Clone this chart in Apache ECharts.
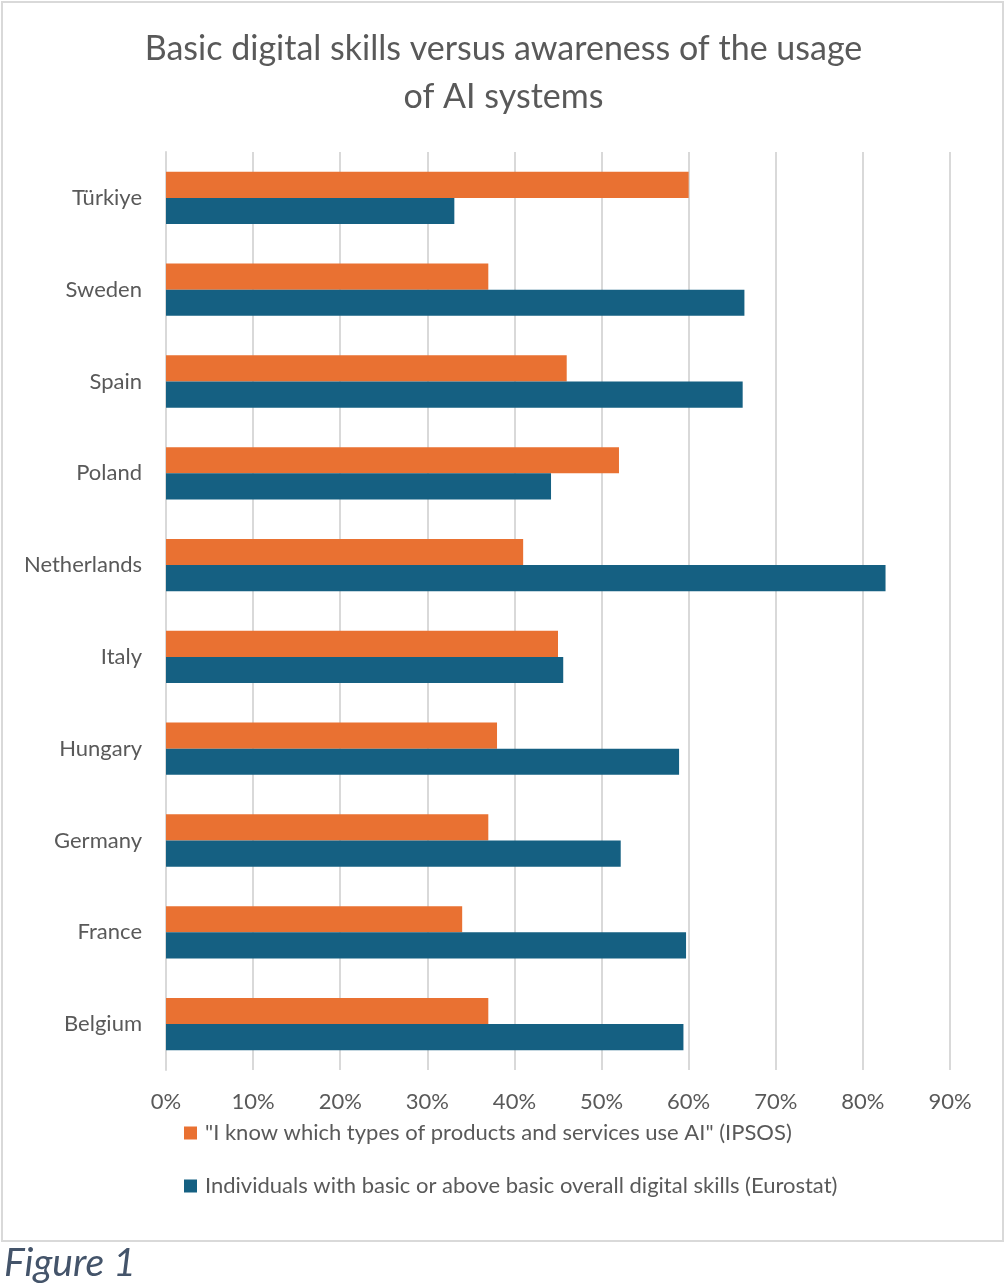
<!DOCTYPE html>
<html>
<head>
<meta charset="utf-8">
<script src="https://cdn.jsdelivr.net/npm/echarts@6/dist/echarts.min.js"></script>
<style>
html,body{margin:0;padding:0;background:#fff;}
#chart{width:1007px;height:1286px;}
</style>
</head>
<body>
<div id="chart"></div>
<script>
const categories = ['Türkiye','Sweden','Spain','Poland','Netherlands','Italy','Hungary','Germany','France','Belgium'];
const ipsos = [60, 37, 46, 52, 41, 45, 38, 37, 34, 37];
const eurostat = [33.1, 66.4, 66.2, 44.2, 82.6, 45.6, 58.9, 52.2, 59.7, 59.4];
const xTicks = [0, 10, 20, 30, 40, 50, 60, 70, 80, 90];
const seriesNames = ['"I know which types of products and services use AI" (IPSOS)', 'Individuals with basic or above basic overall digital skills (Eurostat)'];

const FONT = 'Lato';
const TXT = '#595959';
const chart = echarts.init(document.getElementById('chart'), null, {renderer: 'canvas'});
chart.setOption({
  animation: false,
  backgroundColor: '#fff',
  title: {
    text: 'Basic digital skills versus awareness of the usage\nof AI systems',
    left: 'center',
    top: 20,
    textStyle: {fontFamily: FONT, fontSize: 34, fontWeight: 'normal', color: TXT, lineHeight: 48}
  },
  graphic: [
    {type: 'rect', shape: {x: 2, y: 2, width: 1001, height: 1239}, style: {fill: 'none', stroke: '#d9d9d9', lineWidth: 2}, z: -1},
    {type: 'text', left: 4, top: 1244, style: {text: 'Figure 1', font: 'italic 39px Lato', fill: '#44546A'}}
  ],
  legend: {
    orient: 'vertical',
    left: 179,
    top: 1117,
    itemGap: 31,
    itemWidth: 13,
    itemHeight: 13,
    icon: 'rect',
    textStyle: {fontFamily: FONT, fontSize: 22, color: TXT, padding: [0, 0, 0, 3]},
    data: seriesNames
  },
  grid: {left: 166, right: 57, top: 152, bottom: 216, containLabel: false},
  xAxis: {
    type: 'value',
    min: xTicks[0],
    max: xTicks[xTicks.length - 1],
    interval: 10,
    axisLine: {show: false},
    axisTick: {show: false},
    splitLine: {lineStyle: {color: '#d9d9d9', width: 2}},
    axisLabel: {formatter: '{value}%', fontFamily: FONT, fontSize: 22, color: TXT, margin: 21}
  },
  yAxis: {
    type: 'category',
    inverse: true,
    data: categories,
    axisLine: {lineStyle: {color: '#d9d9d9', width: 2}},
    axisTick: {show: false},
    axisLabel: {fontFamily: FONT, fontSize: 22, color: TXT, margin: 24}
  },
  series: [
    {name: seriesNames[0], type: 'bar', data: ipsos, itemStyle: {color: '#E97132'}, barGap: '0%', barCategoryGap: '43%'},
    {name: seriesNames[1], type: 'bar', data: eurostat, itemStyle: {color: '#156082'}, barGap: '0%', barCategoryGap: '43%'}
  ]
});
</script>
</body>
</html>
